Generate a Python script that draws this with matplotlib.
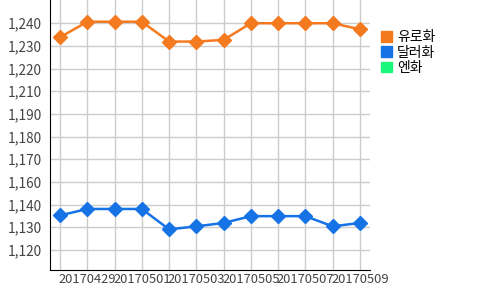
import matplotlib
matplotlib.use("Agg")
import matplotlib.pyplot as plt
from matplotlib.patches import Patch
import numpy as np

plt.rcParams['font.family'] = ['Noto Sans CJK KR', 'DejaVu Sans']

dates = ["20170428", "20170429", "20170430", "20170501", "20170502", "20170503",
         "20170504", "20170505", "20170506", "20170507", "20170508", "20170509"]
euro = [1232.6, 1240.8, 1240.8, 1240.8, 1230.3, 1230.3, 1231.2, 1240.0, 1240.0, 1240.0, 1240.0, 1236.8]
dollar = [1138.3, 1141.7, 1141.7, 1141.7, 1130.9, 1132.5, 1134.3, 1137.9, 1137.9, 1137.9, 1132.5, 1134.3]
series_names = ["유로화", "달러화", "엔화"]
colors = ["#F47A1F", "#1673E6", "#1AF77A"]
ytick_vals = [1120, 1132, 1144, 1156, 1168, 1180, 1192, 1204, 1216, 1228, 1240]
ytick_labels = ["1,120", "1,130", "1,140", "1,160", "1,170", "1,180", "1,190",
                "1,210", "1,220", "1,230", "1,240"]

fig = plt.figure(figsize=(5, 2.9), dpi=100)
ax = fig.add_axes([0.1, 0.069, 0.64, 0.931])

x = np.arange(len(dates))
ax.plot(x, euro, color=colors[0], lw=1.8, marker='D', markersize=7, zorder=3)
ax.plot(x, dollar, color=colors[1], lw=1.8, marker='D', markersize=7, zorder=3)

ax.set_xlim(-0.37, len(dates) - 1 + 0.37)
ax.set_ylim(1109.4, 1252.3)
ax.set_yticks(ytick_vals)
ax.set_yticklabels(ytick_labels)
ax.set_xticks(x)
ax.set_xticklabels([d if i % 2 == 1 else "" for i, d in enumerate(dates)])
ax.grid(True, color="#CCCCCC", lw=1)
ax.set_axisbelow(True)
for s in ["top", "right"]:
    ax.spines[s].set_visible(False)
ax.spines["left"].set_color("black")
ax.spines["bottom"].set_color("black")
ax.tick_params(axis='y', length=0, labelsize=9.8, colors="#444444", pad=6)
ax.tick_params(axis='x', length=0, labelsize=9.3, colors="#444444", pad=2)

handles = [Patch(facecolor=c, edgecolor=c) for c in colors]
fig.legend(handles, series_names, loc="upper left", bbox_to_anchor=(0.75, 0.915),
           frameon=False, fontsize=10, handlelength=0.8, handleheight=0.8,
           handletextpad=0.4, labelspacing=0.1, borderaxespad=0)

fig.savefig("out.png", dpi=100)
